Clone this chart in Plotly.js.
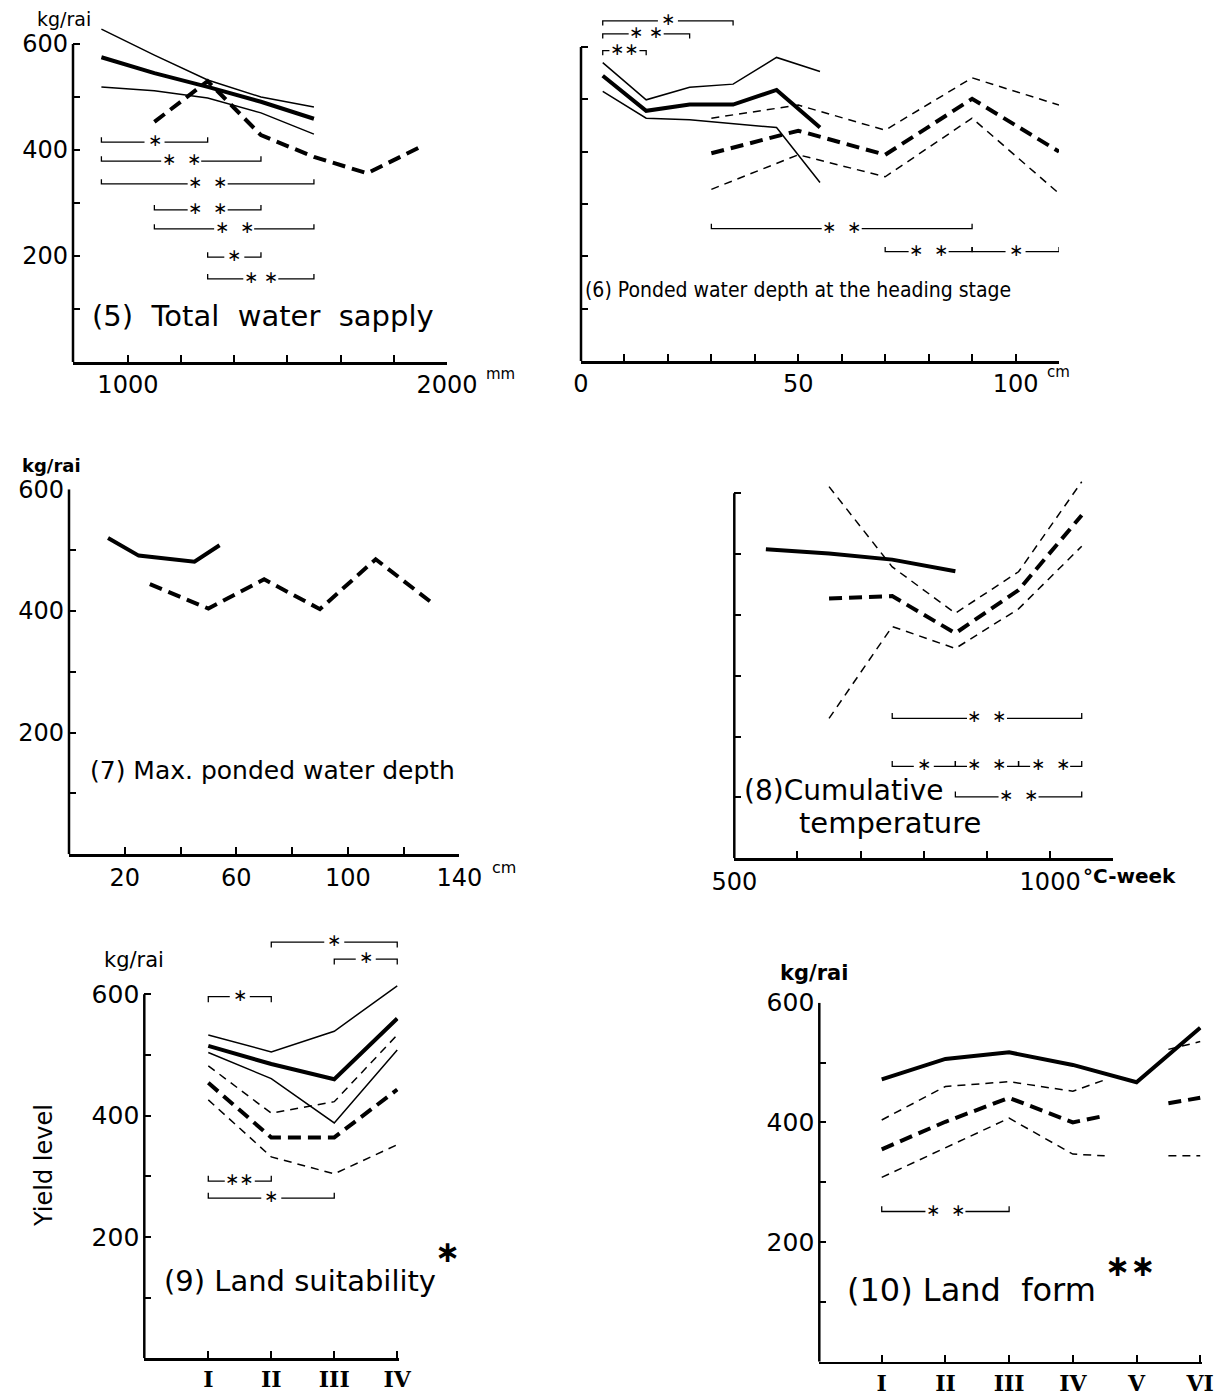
<!DOCTYPE html>
<html><head><meta charset="utf-8">
<script src="https://cdn.plot.ly/plotly-3.0.1.min.js"></script>
<style>html,body{margin:0;padding:0;background:#fff}#chart{width:1222px;height:1397px}</style>
</head><body><div id="chart"></div>
<script>
// ---------------- DATA ----------------
// (5) Total water supply, mm (class midpoints)
const waterX = [917, 1083, 1250, 1417, 1583];
const waterUpper = [628, 579, 532, 500, 481];
const waterMean = [575, 545, 519, 491, 459];
const waterLower = [519, 512, 498, 470, 430];
const waterDashX = [1083, 1250, 1417, 1583, 1750, 1917];
const waterDash = [453, 530, 428, 387, 356, 406];
const waterSigFrom = [917, 917, 917, 1083, 1083, 1250, 1250];
const waterSigTo = [1250, 1417, 1583, 1417, 1583, 1417, 1583];
const waterSigY = [415, 379, 336, 287, 251, 198, 157];
const waterSigMark = ['∗', '∗  ∗', '∗  ∗', '∗  ∗', '∗  ∗', '∗', '∗ ∗'];
const waterTicks = [1000, 1167, 1333, 1500, 1667, 1833, 2000];
const waterTickText = ['1000', '', '', '', '', '', '2000'];

// (6) Ponded water depth at the heading stage, cm
const depthX = [5, 15, 25, 35, 45, 55];
const depthUpper = [570, 499, 523, 529, 580, 553];
const depthMean = [545, 478, 490, 490, 518, 446];
const depthLower = [515, 464, 461, 454, 446, 341];
const depthDashX = [30, 50, 70, 90, 110];
const depthDashUpper = [464, 489, 441, 541, 489];
const depthDashMean = [397, 440, 394, 501, 400];
const depthDashLower = [328, 394, 352, 464, 320];
const depthSigFrom = [5, 5, 5, 30, 70, 90];
const depthSigTo = [35, 25, 15, 90, 90, 110];
const depthSigY = [650, 625, 593, 253, 209, 209];
const depthSigMark = ['∗', '∗ ∗', '∗∗', '∗  ∗', '∗  ∗', '∗'];
const depthTicks = [0, 10, 20, 30, 40, 50, 60, 70, 80, 90, 100, 110];
const depthTickText = ['0', '', '', '', '', '50', '', '', '', '', '100', ''];

// (7) Max. ponded water depth, cm
const maxDepthX = [14, 25, 45, 54];
const maxDepthSolid = [520, 491, 481, 508];
const maxDepthDashX = [29, 50, 70, 90, 110, 130];
const maxDepthDash = [444, 404, 452, 403, 485, 414];
const maxDepthTicks = [0, 20, 40, 60, 80, 100, 120, 140];
const maxDepthTickText = ['', '20', '', '60', '', '100', '', '140'];

// (8) Cumulative temperature, °C-week
const tempSolidX = [550, 650, 750, 850];
const tempSolid = [508, 501, 491, 472];
const tempDashX = [650, 750, 850, 950, 1050];
const tempDashUpper = [611, 479, 403, 471, 619];
const tempDashMean = [427, 431, 370, 441, 564];
const tempDashLower = [230, 381, 345, 410, 513];
const tempSigFrom = [750, 750, 850, 950, 850];
const tempSigTo = [1050, 850, 950, 1050, 1050];
const tempSigY = [230, 151, 151, 151, 101];
const tempSigMark = ['∗  ∗', '∗', '∗  ∗', '∗  ∗', '∗  ∗'];
const tempTicks = [500, 600, 700, 800, 900, 1000, 1100];
const tempTickText = ['500', '', '', '', '', '1000', ''];

// (9) Land suitability
const suitCats = ['I', 'II', 'III', 'IV'];
const suitUpper = [533, 505, 539, 614];
const suitMean = [515, 485, 460, 560];
const suitLower = [504, 461, 388, 508];
const suitDashUpper = [482, 404, 423, 533];
const suitDashMean = [454, 364, 364, 443];
const suitDashLower = [426, 332, 304, 352];
const suitSigFrom = [1, 2, 0, 0, 0];
const suitSigTo = [3, 3, 1, 1, 2];
const suitSigY = [686, 658, 596, 292, 264];
const suitSigMark = ['∗', '∗', '∗', '∗∗', '∗'];

// (10) Land form
const formCats = ['I', 'II', 'III', 'IV', 'V', 'VI'];
const formMean = [472, 506, 517, 496, 467, 558];
const formDashX = [0, 1, 2, 3, 3.5, 4, 4.5, 5];
const formDashUpper = [404, 460, 468, 452, 471, null, 522, 535];
const formDashMean = [355, 401, 441, 400, 411, null, 432, 441];
const formDashLower = [308, 358, 407, 347, 344, null, 344, 344];
const formSigFrom = [0];
const formSigTo = [2];
const formSigY = [251];
const formSigMark = ['∗  ∗'];

const yieldTicks = [0, 100, 200, 300, 400, 500, 600];
const yieldTickText = ['', '', '200', '', '400', '', '600'];
const yieldTickBlank = ['', '', '', '', '', '', ''];

// ---------------- STYLES ----------------
const W = 1222, H = 1397;
const px = v => v / W;
const py = v => 1 - v / H;
const FONT = '"DejaVu Sans", "Noto Sans", sans-serif';
const COND = '"DejaVu Sans Condensed", "Liberation Sans Narrow", "DejaVu Sans", sans-serif';
const SERIF = '"DejaVu Serif", "Liberation Serif", serif';
const thickSolid = {color: '#000', width: 4};
const thinSolid = {color: '#000', width: 1.5};
const thickDash = {color: '#000', width: 4, dash: '13px,7px'};
const thinDash = {color: '#000', width: 1.5, dash: '8px,6px'};
const romanFont = {family: SERIF, size: 22, color: '#000', weight: 'bold'};

function xAxis(dom, range, vals, txt, anchor, font) {
  return {domain: dom, range: range, tickmode: 'array', tickvals: vals, ticktext: txt,
    ticks: 'inside', ticklen: 7, tickwidth: 2, tickcolor: '#000', showline: true, linewidth: 2.5,
    linecolor: '#000', showgrid: false, zeroline: false, anchor: anchor, fixedrange: true,
    tickfont: font || {family: FONT, size: 24, color: '#000'}};
}
function yAxis(dom, range, txt, anchor, size) {
  return {domain: dom, range: range, tickmode: 'array', tickvals: yieldTicks, ticktext: txt,
    ticks: 'inside', ticklen: 7, tickwidth: 2, tickcolor: '#000', showline: false,
    showgrid: false, zeroline: false, anchor: anchor, fixedrange: true, ticklabelstandoff: 4,
    tickfont: {family: FONT, size: size || 24, color: '#000'}};
}

const suitX = suitCats.map((c, i) => i);
const formX = formCats.map((c, i) => i);

const layout = {
  width: W, height: H, margin: {l: 0, r: 0, t: 0, b: 0}, showlegend: false,
  paper_bgcolor: '#fff', plot_bgcolor: 'rgba(0,0,0,0)',
  xaxis: xAxis([px(73), px(447)], [828, 2000], waterTicks, waterTickText, 'y'),
  yaxis: yAxis([py(362), py(22.8)], [0, 640], yieldTickText, 'x'),
  xaxis2: xAxis([px(581), px(1059)], [0, 110], depthTicks, depthTickText, 'y2'),
  yaxis2: yAxis([py(361), py(5.1)], [0, 680], yieldTickBlank, 'x2'),
  xaxis3: xAxis([px(69), px(459.3)], [0, 140], maxDepthTicks, maxDepthTickText, 'y3'),
  yaxis3: yAxis([py(854.3), py(489.3)], [0, 600], yieldTickText, 'x3'),
  xaxis4: xAxis([px(734.3), px(1113.3)], [500, 1100], tempTicks, tempTickText, 'y4'),
  yaxis4: yAxis([py(858.3), py(469)], [0, 640], yieldTickBlank, 'x4'),
  xaxis5: xAxis([px(144.3), px(398.5)], [-1.016, 3.02], suitX, suitCats, 'y5', romanFont),
  yaxis5: yAxis([py(1358.3), py(933.6)], [0, 700], yieldTickText, 'x5', 25),
  xaxis6: xAxis([px(819.3), px(1201.5)], [-0.98, 5.02], formX, formCats, 'y6', romanFont),
  yaxis6: yAxis([py(1361.7), py(1002.7)], [0, 600], yieldTickText, 'x6', 25),
  shapes: [],
  annotations: []
};

const traces = [];
const annotations = layout.annotations;
const shapes = layout.shapes;

function line(xa, ya, x, y, style) {
  traces.push({type: 'scatter', mode: 'lines', x: x, y: y, xaxis: xa, yaxis: ya,
    line: Object.assign({shape: 'linear'}, style), connectgaps: false, hoverinfo: 'skip'});
}
function axisKey(ref) { return ref.replace(/^x/, 'xaxis').replace(/^y/, 'yaxis'); }
function brackets(xa, ya, from, to, ys, marks) {
  const ax = layout[axisKey(xa)];
  const pxPerUnit = (ax.domain[1] - ax.domain[0]) * W / (ax.range[1] - ax.range[0]);
  const h = 9;
  for (let i = 0; i < from.length; i++) {
    const d = ys[i] > 560 ? -h : h;
    const mid = (from[i] + to[i]) / 2;
    const stars = (marks[i].match(/∗/g) || []).length;
    const spaces = (marks[i].match(/ /g) || []).length;
    const g = ((stars * 10 + spaces * 5) / 2 + 5) / pxPerUnit;
    traces.push({type: 'scatter', mode: 'lines', xaxis: xa, yaxis: ya,
      x: [from[i], from[i], mid - g, null, mid + g, to[i], to[i]],
      y: [ys[i] + d, ys[i], ys[i], null, ys[i], ys[i], ys[i] + d],
      line: {color: '#000', width: 1.3}, connectgaps: false, hoverinfo: 'skip'});
    annotations.push({xref: xa, yref: ya, x: mid, y: ys[i], yshift: 2,
      text: marks[i].replace(/ /g, '\u00a0'), showarrow: false,
      font: {family: FONT, size: 17, color: '#000'}, xanchor: 'center', yanchor: 'middle'});
  }
}
function yLine(xa, ya) {
  shapes.push({type: 'line', xref: xa + ' domain', yref: ya, x0: 0, x1: 0, y0: 0, y1: 600,
    line: {color: '#000', width: 2.5}});
}
function text(x, y, t, size, opts) {
  annotations.push(Object.assign({xref: 'paper', yref: 'paper', x: px(x), y: py(y), text: t,
    showarrow: false, xanchor: 'left', yanchor: 'middle',
    font: {family: FONT, size: size, color: '#000'}}, opts || {}));
}

// Panel 5
line('x', 'y', waterX, waterUpper, thinSolid);
line('x', 'y', waterX, waterMean, thickSolid);
line('x', 'y', waterX, waterLower, thinSolid);
line('x', 'y', waterDashX, waterDash, thickDash);
brackets('x', 'y', waterSigFrom, waterSigTo, waterSigY, waterSigMark);
// Panel 6
line('x2', 'y2', depthX, depthUpper, thinSolid);
line('x2', 'y2', depthX, depthMean, thickSolid);
line('x2', 'y2', depthX, depthLower, thinSolid);
line('x2', 'y2', depthDashX, depthDashUpper, thinDash);
line('x2', 'y2', depthDashX, depthDashMean, thickDash);
line('x2', 'y2', depthDashX, depthDashLower, thinDash);
brackets('x2', 'y2', depthSigFrom, depthSigTo, depthSigY, depthSigMark);
// Panel 7
line('x3', 'y3', maxDepthX, maxDepthSolid, thickSolid);
line('x3', 'y3', maxDepthDashX, maxDepthDash, thickDash);
// Panel 8
line('x4', 'y4', tempSolidX, tempSolid, thickSolid);
line('x4', 'y4', tempDashX, tempDashUpper, thinDash);
line('x4', 'y4', tempDashX, tempDashMean, thickDash);
line('x4', 'y4', tempDashX, tempDashLower, thinDash);
brackets('x4', 'y4', tempSigFrom, tempSigTo, tempSigY, tempSigMark);
// Panel 9
line('x5', 'y5', suitX, suitUpper, thinSolid);
line('x5', 'y5', suitX, suitMean, thickSolid);
line('x5', 'y5', suitX, suitLower, thinSolid);
line('x5', 'y5', suitX, suitDashUpper, thinDash);
line('x5', 'y5', suitX, suitDashMean, thickDash);
line('x5', 'y5', suitX, suitDashLower, thinDash);
brackets('x5', 'y5', suitSigFrom, suitSigTo, suitSigY, suitSigMark);
// Panel 10
line('x6', 'y6', formX, formMean, thickSolid);
line('x6', 'y6', formDashX, formDashUpper, thinDash);
line('x6', 'y6', formDashX, formDashMean, thickDash);
line('x6', 'y6', formDashX, formDashLower, thinDash);
brackets('x6', 'y6', formSigFrom, formSigTo, formSigY, formSigMark);

['x', 'x2', 'x3', 'x4', 'x5', 'x6'].forEach((xa, i) => yLine(xa, i === 0 ? 'y' : 'y' + (i + 1)));

// Labels
text(35, 19, 'kg/rai', 19);
text(90, 316, '(5)  Total  water  sapply', 29);
text(484, 374, 'mm', 15);
text(583, 290, '(6) Ponded water depth at the heading stage', 21, {font: {family: COND, size: 21, color: '#000'}});
text(1045, 372, 'cm', 15);
text(20, 465, 'kg/rai', 18, {font: {family: FONT, size: 18, color: '#000', weight: 'bold'}});
text(88, 771, '(7) Max. ponded water depth', 25);
text(490, 868, 'cm', 16);
text(742, 790, '(8)Cumulative', 28);
text(797, 823, 'temperature', 29);
text(1081, 876, '°C-week', 20, {font: {family: FONT, size: 20, color: '#000', weight: 'bold'}});
text(102, 960, 'kg/rai', 21);
text(44, 1166, 'Yield level', 24, {textangle: -90, xanchor: 'center'});
text(162, 1281, '(9) Land suitability', 29);
text(433, 1251, '∗', 30, {font: {family: FONT, size: 30, color: '#000', weight: 'bold'}});
text(778, 973, 'kg/rai', 21, {font: {family: FONT, size: 21, color: '#000', weight: 'bold'}});
text(845, 1290, '(10) Land  form', 32);
text(1103, 1265, '∗∗', 30, {font: {family: FONT, size: 30, color: '#000', weight: 'bold'}});

Plotly.newPlot('chart', traces, layout, {staticPlot: true, displayModeBar: false});
</script>
</body></html>
